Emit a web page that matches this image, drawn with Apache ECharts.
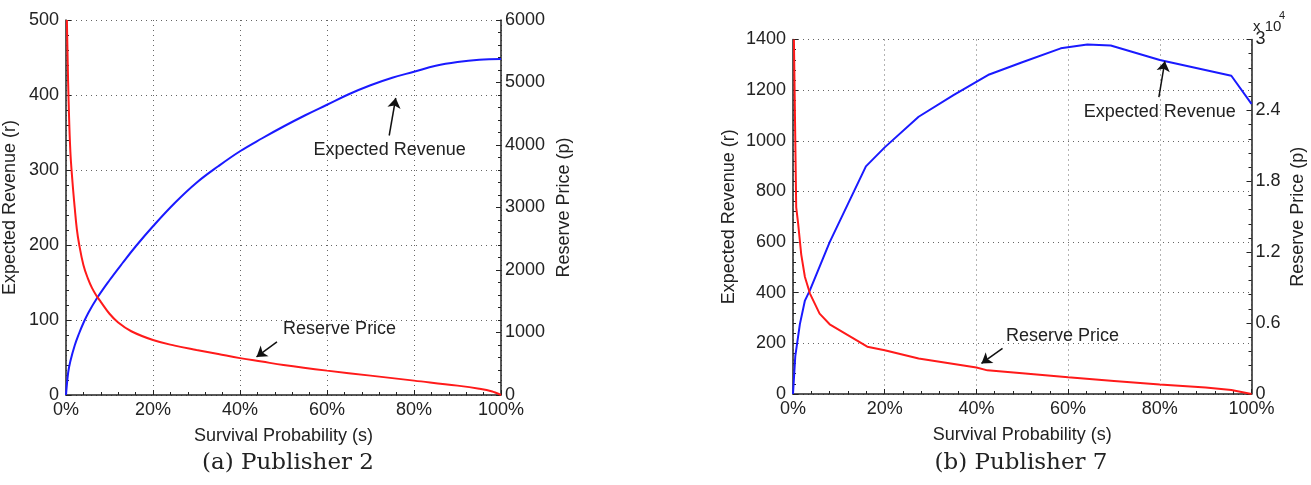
<!DOCTYPE html>
<html>
<head>
<meta charset="utf-8">
<title>Expected revenue and reserve price</title>
<script src="https://cdn.jsdelivr.net/npm/echarts@6/dist/echarts.min.js"></script>
<style>
  html, body { margin: 0; padding: 0; background: #fff; }
  #chart { width: 1311px; height: 485px; }
</style>
</head>
<body>
<div id="chart"></div>
<script>
// ==============================================================
// data
// ==============================================================
// (a) Publisher 2
var pub2RevenueS = [0, 0.005, 0.01, 0.02, 0.03, 0.04, 0.05, 0.07, 0.1, 0.13, 0.16, 0.2, 0.25, 0.3, 0.35, 0.4,
    0.45, 0.5, 0.55, 0.6, 0.65, 0.7, 0.75, 0.8, 0.85, 0.9, 0.95, 1];
var pub2Revenue = [0, 30, 45, 66, 82, 96, 108, 128, 153, 176, 198, 225, 256, 283, 305, 325,
    342, 358, 373, 387, 401, 413, 423, 431, 439, 444, 447, 448];
var pub2ReserveS = [0.002, 0.004, 0.006, 0.01, 0.015, 0.02, 0.025, 0.03, 0.04, 0.05, 0.06, 0.07, 0.08, 0.1,
    0.12, 0.15, 0.2, 0.25, 0.3, 0.35, 0.4, 0.45, 0.5, 0.6, 0.7, 0.8, 0.9, 0.95, 0.98, 1];
var pub2Reserve = [6000, 5300, 4700, 3900, 3400, 3000, 2650, 2420, 2080, 1870, 1710, 1590, 1490, 1300,
    1160, 1020, 880, 790, 720, 655, 590, 535, 480, 390, 310, 230, 150, 100, 55, 0];

// (b) Publisher 7  (reserve price in units of 10^4)
var pub7RevenueS = [0, 0.005, 0.015, 0.026, 0.037, 0.08, 0.159, 0.2, 0.274, 0.35, 0.428, 0.5, 0.584, 0.642,
    0.693, 0.8, 0.956, 1];
var pub7Revenue = [0, 150, 276, 369, 410, 600, 899, 974, 1095, 1180, 1262, 1310, 1365, 1380,
    1376, 1319, 1257, 1146];
var pub7ReserveS = [0.002, 0.007, 0.011, 0.018, 0.026, 0.037, 0.058, 0.08, 0.162, 0.2, 0.274, 0.4, 0.424,
    0.5, 0.6, 0.7, 0.8, 0.9, 0.956, 1];
var pub7Reserve = [3.0, 1.58, 1.45, 1.18, 0.99, 0.85, 0.68, 0.59, 0.40, 0.37, 0.30, 0.225, 0.20,
    0.176, 0.141, 0.111, 0.081, 0.054, 0.034, 0];

var xTicks = [0, 0.2, 0.4, 0.6, 0.8, 1];

function pairs(xs, ys) {
    return xs.map(function (x, i) { return [x, ys[i]]; });
}

var font = 'Liberation Sans';
var ink = '#222';

function plain(v) {
    return String(+v.toFixed(1));
}

function xAxisFor(grid) {
    return {
        type: 'value', gridIndex: grid,
        min: xTicks[0], max: xTicks[xTicks.length - 1], interval: xTicks[1] - xTicks[0],
        name: 'Survival Probability (s)', nameLocation: 'middle', nameGap: 32,
        nameTextStyle: { fontFamily: font, fontSize: 18, color: ink },
        axisLine: { lineStyle: { color: ink, width: 1.5 } },
        axisTick: { inside: true, length: 5, lineStyle: { color: ink } },
        minorTick: { show: true, splitNumber: 5, length: 3, lineStyle: { color: ink } },
        axisLabel: { margin: 6, fontFamily: font, fontSize: 18, color: ink,
            formatter: function (v) { return Math.round(v * 100) + '%'; } },
        splitLine: { show: true, lineStyle: { color: '#666', type: [1, 4] } }
    };
}

function yAxisFor(grid, pos, min, max, step, name, gap, gridLines) {
    return {
        type: 'value', gridIndex: grid, position: pos,
        min: min, max: max, interval: step,
        name: name, nameLocation: 'middle', nameGap: gap,
        nameTextStyle: { fontFamily: font, fontSize: 18, color: ink },
        axisLine: { show: true, lineStyle: { color: ink, width: 1.5 } },
        axisTick: { show: true, inside: true, length: 5, lineStyle: { color: ink } },
        minorTick: { show: true, splitNumber: 5, length: 3, lineStyle: { color: ink } },
        axisLabel: { margin: pos === 'left' ? 7 : 4, fontFamily: font, fontSize: 18, color: ink,
            formatter: plain },
        splitLine: { show: gridLines, lineStyle: { color: '#666', type: [1, 4] } }
    };
}

function arrow(from, to) {
    return [{ coord: from }, { coord: to }];
}

function note(at, text) {
    return { coord: at, name: text };
}

var noteLabel = { show: true, position: 'inside', formatter: '{b}',
    fontFamily: font, fontSize: 18, color: ink };
var arrowStyle = { color: '#111', width: 1.5, type: 'solid' };
var captionStyle = { fontFamily: 'DejaVu Serif', fontSize: 23, fontWeight: 'normal', color: ink };

var myChart = echarts.init(document.getElementById('chart'));

option = {
    backgroundColor: '#fff',
    animation: false,
    title: [
        { text: '(a) Publisher 2', left: 283, top: 447, textAlign: 'center', textStyle: captionStyle },
        { text: '(b) Publisher 7', left: 1016, top: 447, textAlign: 'center', textStyle: captionStyle }
    ],
    graphic: [
        { type: 'text', left: 1253, top: 19, style: { text: 'x 10', fontFamily: font, fontSize: 15, fill: ink } },
        { type: 'text', left: 1279, top: 10, style: { text: '4', fontFamily: font, fontSize: 11, fill: ink } }
    ],
    grid: [
        { left: 66, top: 20, width: 435, height: 375, containLabel: false },
        { left: 793, top: 39.5, width: 458.5, height: 354.5, containLabel: false }
    ],
    xAxis: [xAxisFor(0), xAxisFor(1)],
    yAxis: [
        yAxisFor(0, 'left', 0, 500, 100, 'Expected Revenue (r)', 47, true),
        yAxisFor(0, 'right', 0, 6000, 1000, 'Reserve Price (p)', 54, false),
        yAxisFor(1, 'left', 0, 1400, 200, 'Expected Revenue (r)', 55, true),
        yAxisFor(1, 'right', 0, 3, 0.6, 'Reserve Price (p)', 38, false)
    ],
    series: [
        {
            name: 'Expected Revenue', type: 'line', xAxisIndex: 0, yAxisIndex: 0,
            data: pairs(pub2RevenueS, pub2Revenue),
            smooth: 0.4, showSymbol: false,
            lineStyle: { color: '#1a1aff', width: 2 }, itemStyle: { color: '#1a1aff' },
            markLine: { silent: true, symbol: ['none', 'arrow'], symbolSize: 10,
                label: { show: false }, lineStyle: arrowStyle,
                data: [arrow([0.743, 346], [0.758, 396])] },
            markPoint: { symbol: 'circle', symbolSize: 0, label: noteLabel,
                data: [note([0.744, 326], 'Expected Revenue')] }
        },
        {
            name: 'Reserve Price', type: 'line', xAxisIndex: 0, yAxisIndex: 1,
            data: pairs(pub2ReserveS, pub2Reserve),
            smooth: 0.4, showSymbol: false,
            lineStyle: { color: '#ff1a1a', width: 2 }, itemStyle: { color: '#ff1a1a' },
            markLine: { silent: true, symbol: ['none', 'arrow'], symbolSize: 10,
                label: { show: false }, lineStyle: arrowStyle,
                data: [arrow([0.485, 850], [0.438, 610])] },
            markPoint: { symbol: 'circle', symbolSize: 0, label: noteLabel,
                data: [note([0.629, 1048], 'Reserve Price')] }
        },
        {
            name: 'Expected Revenue', type: 'line', xAxisIndex: 1, yAxisIndex: 2,
            data: pairs(pub7RevenueS, pub7Revenue),
            showSymbol: false,
            lineStyle: { color: '#1a1aff', width: 2 }, itemStyle: { color: '#1a1aff' },
            markLine: { silent: true, symbol: ['none', 'arrow'], symbolSize: 10,
                label: { show: false }, lineStyle: arrowStyle,
                data: [arrow([0.798, 1172], [0.811, 1314])] },
            markPoint: { symbol: 'circle', symbolSize: 0, label: noteLabel,
                data: [note([0.8, 1115], 'Expected Revenue')] }
        },
        {
            name: 'Reserve Price', type: 'line', xAxisIndex: 1, yAxisIndex: 3,
            data: pairs(pub7ReserveS, pub7Reserve),
            showSymbol: false,
            lineStyle: { color: '#ff1a1a', width: 2 }, itemStyle: { color: '#ff1a1a' },
            markLine: { silent: true, symbol: ['none', 'arrow'], symbolSize: 10,
                label: { show: false }, lineStyle: arrowStyle,
                data: [arrow([0.457, 0.386], [0.411, 0.259])] },
            markPoint: { symbol: 'circle', symbolSize: 0, label: noteLabel,
                data: [note([0.588, 0.493], 'Reserve Price')] }
        }
    ]
};

myChart.setOption(option, true);
</script>
</body>
</html>
